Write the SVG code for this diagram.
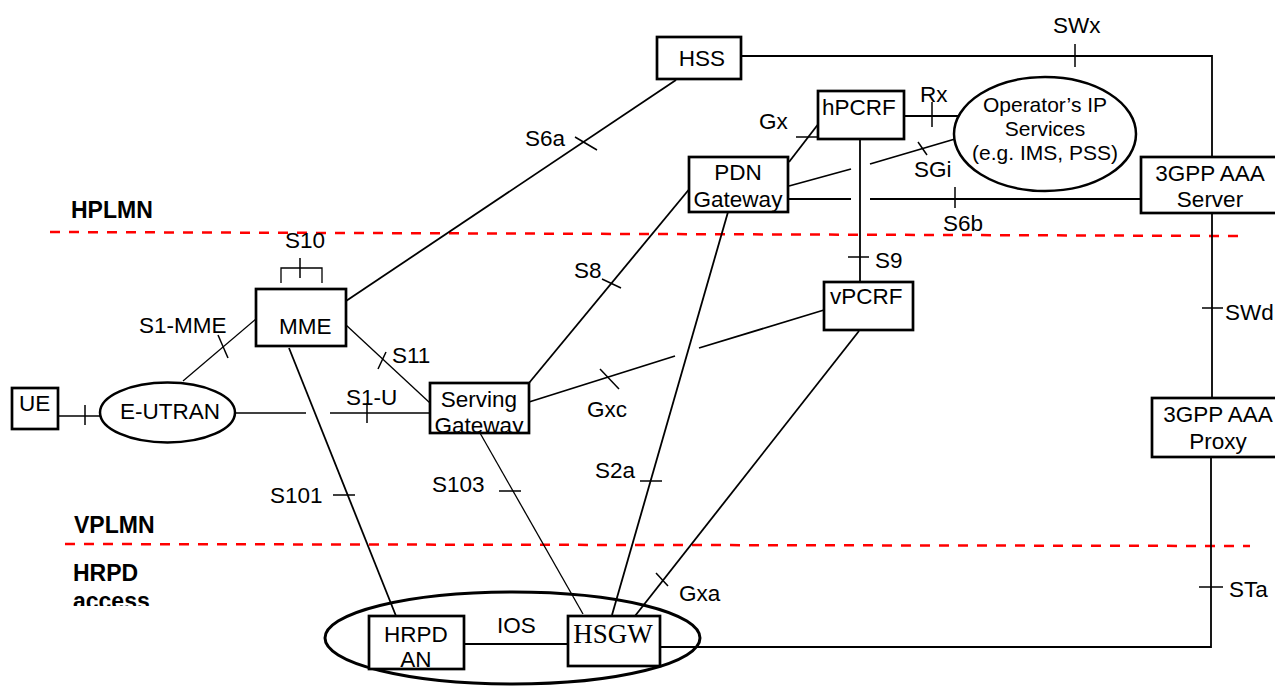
<svg xmlns="http://www.w3.org/2000/svg" width="1275" height="686" viewBox="0 0 1275 686">
<style>
text{font-family:"Liberation Sans",Arial,sans-serif;font-size:22.5px;fill:#000}
.b{font-weight:bold;font-size:23px}
.box{fill:#fff;stroke:#000;stroke-width:2.7}
.el{fill:#fff;stroke:#000;stroke-width:2.5}
.ln{stroke:#000;stroke-width:1.8;fill:none}
.th{stroke:#000;stroke-width:1.3;fill:none}
.tk{stroke:#000;stroke-width:1.5;fill:none}
.dash{stroke:#f00;stroke-width:2.5;stroke-dasharray:10 9;fill:none}
.serif{font-family:"Liberation Serif","Times New Roman",serif;font-size:27px}
.sm{font-size:21px}
</style>
<defs>
<clipPath id="cSGW"><rect x="430" y="383" width="99" height="49"/></clipPath>
<clipPath id="cAcc"><rect x="0" y="560" width="200" height="46"/></clipPath>
</defs>
<rect width="1275" height="686" fill="#fff"/>
<g id="boundaries">
<line class="dash" x1="50" y1="232" x2="1245" y2="236"/>
<line class="dash" x1="65" y1="544" x2="1250" y2="546"/>
<text class="b" x="71" y="218">HPLMN</text>
<text class="b" x="74" y="533">VPLMN</text>
<text class="b" x="73" y="581">HRPD</text>
<text class="b" x="73" y="609" clip-path="url(#cAcc)">access</text>
</g>
<g id="connectors">
<polyline class="ln" points="741,56 1212,56 1212,157"/>
<line class="tk" x1="1075" y1="44" x2="1075" y2="67"/>
<text x="1053" y="33">SWx</text>
<line class="ln" x1="346" y1="301" x2="676" y2="80"/>
<line class="tk" x1="575" y1="137" x2="597" y2="150"/>
<text x="525" y="146">S6a</text>
<line class="ln" x1="789" y1="162" x2="826" y2="114"/>
<line class="tk" x1="796" y1="137" x2="818" y2="137"/>
<text x="759" y="129">Gx</text>
<line class="ln" x1="904" y1="116" x2="965" y2="116"/>
<line class="tk" x1="932" y1="102" x2="932" y2="127"/>
<text x="920" y="102">Rx</text>
<line class="ln" x1="789" y1="186" x2="851" y2="169"/>
<line class="ln" x1="870" y1="164" x2="955" y2="139"/>
<line class="tk" x1="918" y1="142" x2="927" y2="155"/>
<text x="914" y="177">SGi</text>
<line class="ln" x1="789" y1="199" x2="851" y2="199"/>
<line class="ln" x1="870" y1="199" x2="1141" y2="199"/>
<line class="tk" x1="955" y1="187" x2="955" y2="208"/>
<text x="943" y="231">S6b</text>
<line class="ln" x1="860" y1="139" x2="860" y2="282"/>
<line class="tk" x1="848" y1="257" x2="869" y2="257"/>
<text x="875" y="268">S9</text>
<line class="ln" x1="1212" y1="213" x2="1212" y2="398"/>
<line class="tk" x1="1202" y1="308" x2="1223" y2="308"/>
<text x="1225" y="320">SWd</text>
<polyline class="ln" points="1211,457 1211,647 660,647"/>
<line class="tk" x1="1199" y1="587" x2="1223" y2="587"/>
<text x="1229" y="597">STa</text>
<line class="th" x1="58" y1="416" x2="100" y2="416"/>
<line class="tk" x1="85" y1="405" x2="85" y2="425"/>
<line class="th" x1="235" y1="413" x2="306" y2="413"/>
<line class="th" x1="330" y1="413" x2="430" y2="413"/>
<line class="tk" x1="367" y1="403" x2="367" y2="423"/>
<text x="346" y="405">S1-U</text>
<line class="th" x1="183" y1="381" x2="256" y2="319"/>
<line class="tk" x1="218" y1="335" x2="228" y2="358"/>
<text x="139" y="333">S1-MME</text>
<polyline class="th" points="281,283 281,268 322,268 322,283"/>
<line class="tk" x1="300" y1="258" x2="300" y2="278"/>
<text x="285" y="248">S10</text>
<line class="th" x1="346" y1="325" x2="430" y2="403"/>
<line class="tk" x1="386" y1="352" x2="378" y2="369"/>
<text x="392" y="363">S11</text>
<line class="ln" x1="289" y1="348" x2="396" y2="616"/>
<line class="tk" x1="333" y1="495" x2="355" y2="495"/>
<text x="270" y="503">S101</text>
<line class="ln" x1="529" y1="383" x2="691" y2="187"/>
<line class="tk" x1="602" y1="279" x2="621" y2="288"/>
<text x="574" y="278">S8</text>
<line class="ln" x1="529" y1="402" x2="675" y2="356"/>
<line class="ln" x1="699" y1="348" x2="824" y2="310"/>
<line class="tk" x1="600" y1="369" x2="619" y2="389"/>
<text x="587" y="417">Gxc</text>
<line class="th" x1="480" y1="433" x2="583" y2="614"/>
<line class="tk" x1="499" y1="491" x2="521" y2="491"/>
<text x="432" y="492">S103</text>
<line class="ln" x1="728" y1="212" x2="612" y2="615"/>
<line class="tk" x1="640" y1="481" x2="662" y2="481"/>
<text x="595" y="478">S2a</text>
<line class="ln" x1="859" y1="331" x2="635" y2="616"/>
<line class="tk" x1="656" y1="573" x2="668" y2="586"/>
<text x="679" y="601">Gxa</text>
</g>
<g id="hrpd-access">
<ellipse cx="512.5" cy="638" rx="187.5" ry="46" fill="none" stroke="#000" stroke-width="3"/>
</g>
<g id="ios">
<line class="ln" x1="464" y1="644" x2="568" y2="644"/>
<text x="497" y="633">IOS</text>
</g>
<g id="hss"><rect class="box" x="657" y="37" width="84" height="42"/><text x="702" y="66" text-anchor="middle">HSS</text></g>
<g id="hpcrf"><rect class="box" x="818" y="91" width="86" height="48"/><text x="822" y="115">hPCRF</text></g>
<g id="pdn-gw"><rect class="box" x="689" y="157" width="99" height="55"/><text x="738" y="180" text-anchor="middle">PDN</text><text x="738" y="207" text-anchor="middle">Gateway</text></g>
<g id="operator-ip"><ellipse class="el" cx="1045" cy="134" rx="91" ry="57"/><text class="sm" x="1045" y="112" text-anchor="middle">Operator’s IP</text><text class="sm" x="1045" y="136" text-anchor="middle">Services</text><text class="sm" x="1045" y="160" text-anchor="middle">(e.g. IMS, PSS)</text></g>
<g id="aaa-server"><rect class="box" x="1141" y="157" width="140" height="56"/><text x="1210" y="181" text-anchor="middle">3GPP AAA</text><text x="1210" y="207" text-anchor="middle">Server</text></g>
<g id="vpcrf"><rect class="box" x="824" y="282" width="89" height="48"/><text x="830" y="304">vPCRF</text></g>
<g id="aaa-proxy"><rect class="box" x="1152" y="398" width="135" height="59"/><text x="1218" y="422" text-anchor="middle">3GPP AAA</text><text x="1218" y="449" text-anchor="middle">Proxy</text></g>
<g id="ue"><rect class="box" x="12" y="388" width="46" height="41"/><text x="19" y="411">UE</text></g>
<g id="e-utran"><ellipse class="el" cx="167.5" cy="412.5" rx="67.5" ry="30"/><text x="170" y="419" text-anchor="middle">E-UTRAN</text></g>
<g id="mme"><rect class="box" x="256" y="289" width="90" height="57"/><text x="279" y="334">MME</text></g>
<g id="serving-gw"><rect class="box" x="430" y="383" width="99" height="50"/><g clip-path="url(#cSGW)"><text x="479" y="407" text-anchor="middle">Serving</text><text x="479" y="433" text-anchor="middle">Gateway</text></g></g>
<g id="hrpd-an"><rect class="box" x="369" y="616" width="95" height="53"/><text x="416" y="642" text-anchor="middle">HRPD</text><text x="416" y="667" text-anchor="middle">AN</text></g>
<g id="hsgw"><rect class="box" x="568" y="616" width="92" height="50"/><text class="serif" x="613" y="643" text-anchor="middle">HSGW</text></g>
</svg>
